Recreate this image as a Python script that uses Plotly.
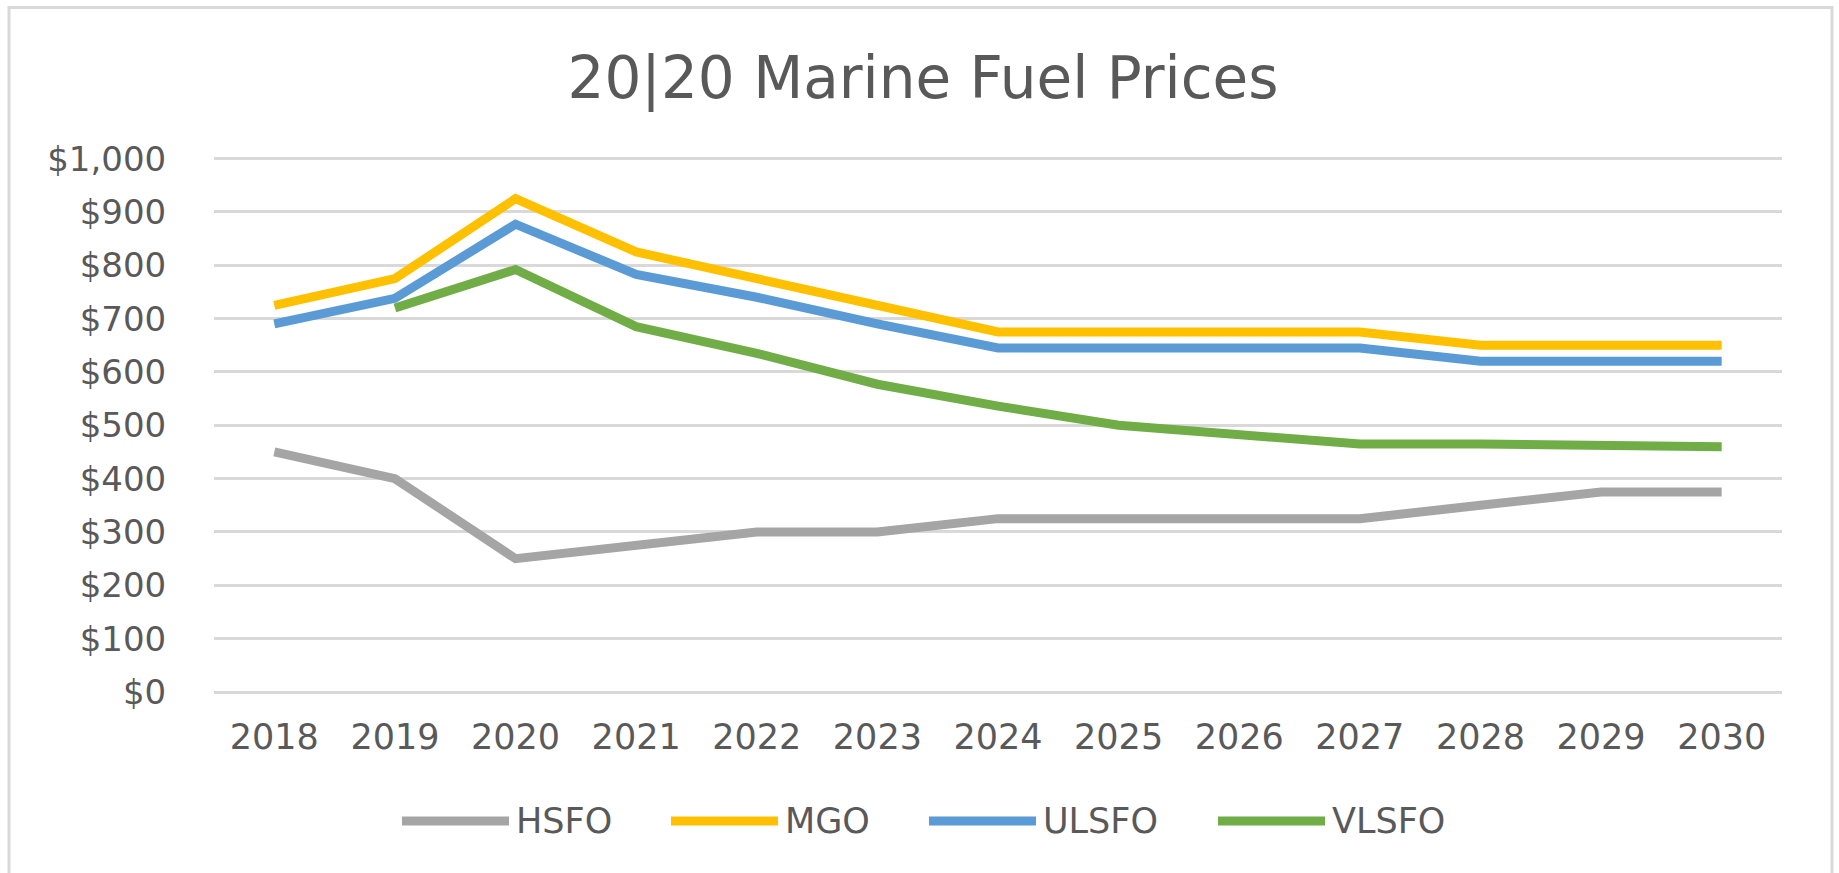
import plotly.graph_objects as go

# ---- data ----
years = ["2018", "2019", "2020", "2021", "2022", "2023", "2024",
         "2025", "2026", "2027", "2028", "2029", "2030"]
hsfo = [450, 400, 250, 275, 300, 300, 325, 325, 325, 325, 350, 375, 375]
mgo = [725, 775, 925, 825, 775, 725, 675, 675, 675, 675, 650, 650, 650]
ulsfo = [690, 738, 877, 783, 740, 690, 645, 645, 645, 645, 620, 620, 620]
vlsfo = [None, 720, 792, 685, 635, 577, 536, 500, 482, 465, 465, 462, 460]

series_names = ["HSFO", "MGO", "ULSFO", "VLSFO"]
series_values = [hsfo, mgo, ulsfo, vlsfo]
series_colors = ["#A5A5A5", "#FFC000", "#5B9BD5", "#70AD47"]

y_tickvals = [0, 100, 200, 300, 400, 500, 600, 700, 800, 900, 1000]
y_ticktext = ["$0", "$100", "$200", "$300", "$400", "$500", "$600",
              "$700", "$800", "$900", "$1,000"]

title_text = "20|20 Marine Fuel Prices"

# ---- layout geometry (pixels) ----
W, H = 1839, 873
YMAX = 1003
L, R, B = 214, 1782, 692
T = B - (B - 159) * YMAX / 1000.0
FONT = "DejaVu Sans"
TXT = "#595959"
GRID = "#D9D9D9"

fig = go.Figure()
for name, vals, col in zip(series_names, series_values, series_colors):
    fig.add_trace(go.Scatter(
        x=years, y=vals, name=name, mode="lines",
        line=dict(color=col, width=9),
        connectgaps=False, showlegend=False,
    ))

def px_x(p):
    return (p - L) / (R - L)

def px_y(p):
    return (B - p) / (B - T)

shapes = []
annotations = []

# outer frame
shapes.append(dict(type="rect", xref="paper", yref="paper",
                   x0=px_x(9), x1=px_x(1832), y0=px_y(900), y1=px_y(8),
                   line=dict(color=GRID, width=3), layer="below"))

# custom legend (long line keys like the original)
leg_y = 821
leg_starts = [402, 671, 929, 1218]
key_len = 107
for name, col, x0 in zip(series_names, series_colors, leg_starts):
    shapes.append(dict(type="line", xref="paper", yref="paper",
                       x0=px_x(x0), x1=px_x(x0 + key_len),
                       y0=px_y(leg_y), y1=px_y(leg_y),
                       line=dict(color=col, width=9)))
    annotations.append(dict(xref="paper", yref="paper",
                            x=px_x(x0 + key_len + 5), y=px_y(leg_y),
                            xanchor="left", yanchor="middle",
                            text=name, showarrow=False,
                            font=dict(family=FONT, size=35, color=TXT)))

fig.update_layout(
    width=W, height=H,
    margin=dict(l=L, r=W - R, t=T, b=H - B, pad=0),
    paper_bgcolor="white", plot_bgcolor="white",
    title=dict(text=title_text, x=923 / W, xanchor="center",
               y=1 - 78 / H, yanchor="middle", yref="container",
               font=dict(family=FONT, size=58, color=TXT)),
    font=dict(family=FONT, color=TXT),
    shapes=shapes, annotations=annotations,
    showlegend=False,
    xaxis=dict(type="category", categoryorder="array", categoryarray=years,
               showgrid=False, zeroline=False, showline=False,
               ticks="outside", ticklen=14, tickcolor="rgba(0,0,0,0)",
               tickfont=dict(family=FONT, size=35, color=TXT),
               range=[-0.5, len(years) - 0.5], fixedrange=True),
    yaxis=dict(range=[0, YMAX], tickvals=y_tickvals, ticktext=y_ticktext,
               showgrid=True, gridcolor=GRID, gridwidth=2.5,
               zeroline=True, zerolinecolor=GRID, zerolinewidth=2.5,
               showline=False,
               ticks="outside", ticklen=40, tickcolor="rgba(0,0,0,0)",
               tickfont=dict(family=FONT, size=34, color=TXT),
               fixedrange=True),
)

fig.write_html("out.html",
               config={"displayModeBar": False},
               post_script="document.body.style.margin='0px';document.body.style.overflow='hidden';")
